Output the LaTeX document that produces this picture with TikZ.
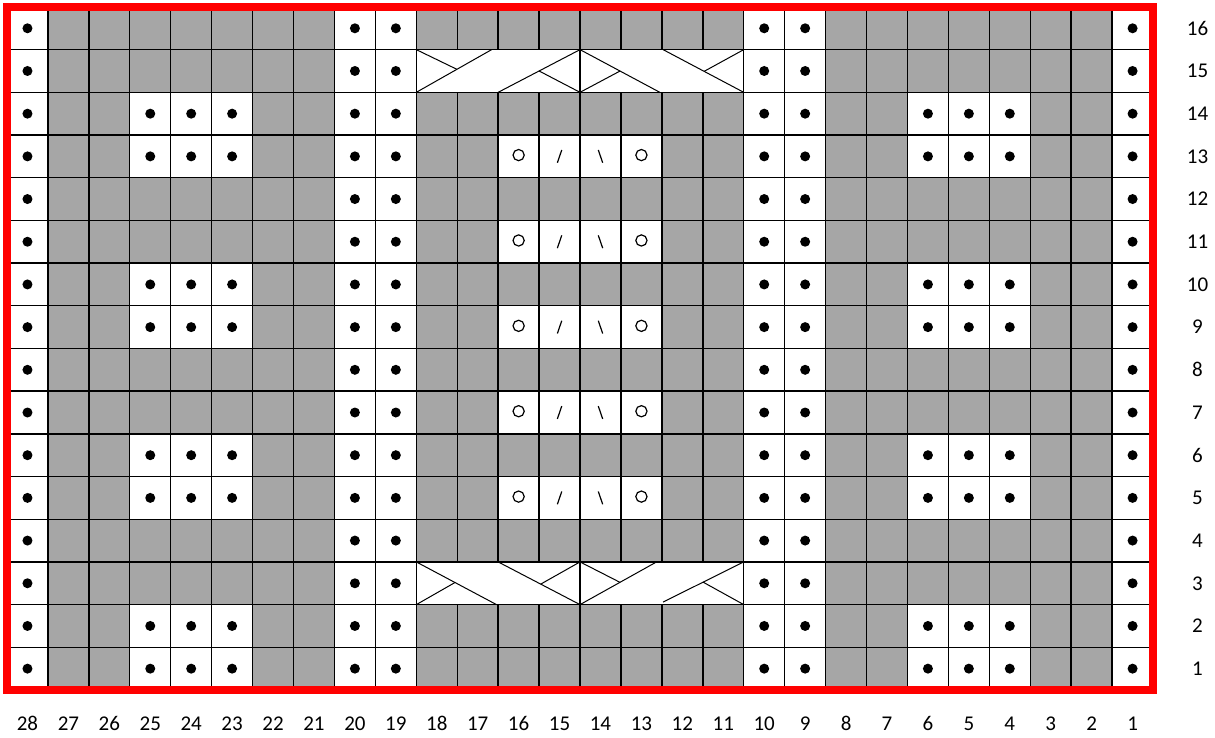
\documentclass[tikz,border=0pt]{standalone}
\usepackage{fontspec}
\setmainfont{Carlito}
\definecolor{cellgray}{RGB}{166,166,166}
\definecolor{bordred}{RGB}{255,0,0}
\begin{document}
\begin{tikzpicture}[x=20.465pt,y=21.345pt,
  gridline/.style={line width=0.7pt},
  cableline/.style={line width=0.5pt},
  symline/.style={line width=0.6pt},
  lbl/.style={font=\fontsize{10.5}{12}\selectfont, inner sep=0pt}]
\useasboundingbox (-0.171,-1.1244) rectangle (29.514,16.163);
\fill[cellgray] (0,0) rectangle (28,16);
% purl columns every row
\foreach \x in {0,8,9,18,19,27} {
  \fill[white] (\x,0) rectangle ++(1,16);
}
% purl blocks
\foreach \x in {3,22} \foreach \r in {1,5,9,13} {
  \fill[white] (\x,\r-1) rectangle ++(3,2);
}
% lace cells
\foreach \r in {5,7,9,11,13} {
  \fill[white] (12,\r-1) rectangle (16,\r);
}
% grid
\foreach \x in {0,...,28} \draw[gridline] (\x,0) -- (\x,16);
\foreach \y in {0,...,16} \draw[gridline] (0,\y) -- (28,\y);
% cable blocks
\foreach \a/\r in {10/14, 14/14, 10/2, 14/2} {
  \fill[white] (\a,\r) rectangle ++(4,1);
  \draw[gridline] (\a,\r) rectangle ++(4,1);
}
% dots
\foreach \x in {0,8,9,18,19,27} \foreach \r in {1,...,16} {
  \fill (\x+0.5,\r-0.5) circle[radius=2.5pt];
}
\foreach \x in {3,4,5,22,23,24} \foreach \r in {1,2,5,6,9,10,13,14} {
  \fill (\x+0.5,\r-0.5) circle[radius=2.5pt];
}
% lace symbols
\foreach \r in {5,7,9,11,13} {
  \draw[symline] (12.5,\r-0.47) circle[radius=2.8pt];
  \draw[symline] (15.5,\r-0.47) circle[radius=2.8pt];
  \draw[symline] (13.5,\r-0.5) ++(-1.1pt,-3.2pt) -- ++(2.2pt,6.4pt);
  \draw[symline] (14.5,\r-0.5) ++(1.1pt,-3.2pt) -- ++(-2.2pt,6.4pt);
}
% cables row 15
\draw[cableline] (10,14) -- (11.84,15);
\draw[cableline] (10,15) -- (10.99,14.54);
\draw[cableline] (12.0,14) -- (14,15);
\draw[cableline] (13,14.5) -- (14,14);
\draw[cableline] (14,15) -- (15.95,14);
\draw[cableline] (14,14) -- (14.98,14.5);
\draw[cableline] (16.03,15) -- (18,14);
\draw[cableline] (17.03,14.49) -- (18,15);
% cables row 3
\draw[cableline] (10,3) -- (11.96,2);
\draw[cableline] (10,2) -- (10.95,2.52);
\draw[cableline] (12.0,3) -- (14,2);
\draw[cableline] (13.04,2.48) -- (14,3);
\draw[cableline] (14,3) -- (14.98,2.52);
\draw[cableline] (14,2) -- (15.87,3);
\draw[cableline] (16.03,2.06) -- (18,3);
\draw[cableline] (17.0,2.53) -- (18,2);
% red border
\draw[bordred, line width=4pt] (0,0) rectangle (28,16);
% labels
\foreach \r in {1,...,16} \node[lbl] (rl\r) at (29.086,\r-0.5) {\r};
\foreach \c in {1,...,28} \node[lbl] (cl\c) at (28-\c+0.5,-0.785) {\c};
\end{tikzpicture}
\end{document}
